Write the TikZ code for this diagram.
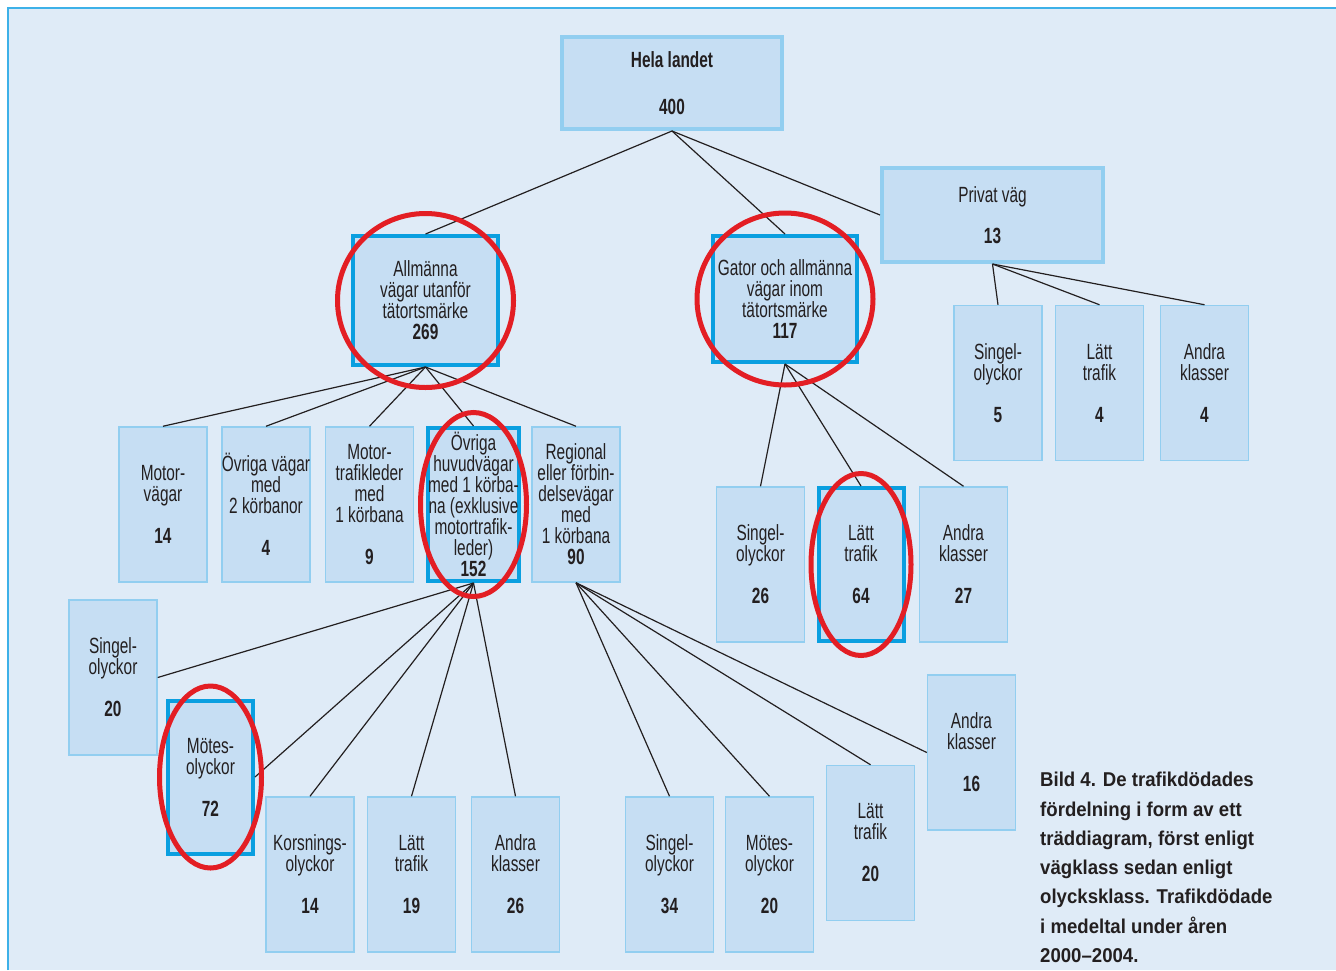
\documentclass[tikz,border=0pt]{standalone}
\usepackage{fontspec}
\setmainfont{Liberation Sans}[FakeStretch=0.7]
\newfontfamily\capfont{Liberation Sans}[FakeStretch=0.93, Ligatures=TeX]
\usepackage{xcolor}
\usepackage{tikz}
\usetikzlibrary{positioning}
\definecolor{panel}{HTML}{DFEBF7}
\definecolor{boxfill}{HTML}{C6DEF3}
\definecolor{boxline}{HTML}{92CEF0}
\definecolor{markline}{HTML}{0A9FE0}
\definecolor{frameline}{HTML}{3DB1E8}
\definecolor{ringred}{HTML}{E31E24}
\definecolor{ink}{HTML}{231F20}
\tikzset{every node/.style={font=\fontsize{22}{21}\selectfont, text=ink}}

\begin{document}
\begin{tikzpicture}[x=1pt, y=-1pt]
    % Define styles
    \tikzstyle{leaf} = [rectangle, minimum width=88pt, minimum height=155pt, inner sep=0pt, align=center, draw=boxline, fill=boxfill, line width=1.5pt]
    \tikzstyle{marked} = [leaf, minimum width=85pt, minimum height=153pt, draw=markline, line width=4pt]
    \tikzstyle{headbox} = [rectangle, minimum width=220pt, minimum height=92pt, inner sep=0pt, align=center, draw=boxline, fill=boxfill, line width=4pt]
    \tikzstyle{link} = [line width=1.2pt, draw=ink]
    \tikzstyle{ring} = [line width=5pt, draw=ringred]

    % Panel
    \useasboundingbox (0,0) rectangle (1336,970);
    \fill[white] (0,0) rectangle (1336,970);
    \fill[panel] (7,7) rectangle (1336,970);
    \draw[frameline, line width=2.5pt] (8,970) -- (8,8) -- (1336,8);

    % Whole country
    \node (root) [headbox] at (672, 83) {\textbf{Hela landet}\\[26pt]\textbf{400}};

    % Road classes
    \node (allm) [marked, minimum width=145pt, minimum height=129pt] at (425.5, 300.5) {Allmänna\\vägar utanför\\tätortsmärke\\\textbf{269}};
    \node (gator) [marked, minimum width=144pt, minimum height=126pt] at (785, 299) {Gator och allmänna\\vägar inom\\tätortsmärke\\\textbf{117}};
    \node (privat) [headbox, minimum width=221pt, minimum height=94pt] at (992.5, 215) {Privat väg\\[20pt]\textbf{13}};

    % Private road by accident class
    \node (psing) [leaf] at (998, 383) {Singel-\\olyckor\\[21pt]\textbf{5}};
    \node (platt) [leaf] at (1099.5, 383) {Lätt\\trafik\\[21pt]\textbf{4}};
    \node (pandr) [leaf] at (1204.5, 383) {Andra\\klasser\\[21pt]\textbf{4}};

    % Rural roads by road type
    \node (motorv) [leaf] at (163, 504.5) {Motor-\\vägar\\[21pt]\textbf{14}};
    \node (ovrv) [leaf] at (266, 504.5) {Övriga vägar\\med\\2 körbanor\\[21pt]\textbf{4}};
    \node (mtl) [leaf] at (369.5, 504.5) {Motor-\\trafikleder\\med\\1 körbana\\[21pt]\textbf{9}};
    \node (ovrh) [marked] at (473.5, 504.5) {Övriga\\huvudvägar\\med 1 körba-\\na (exklusive\\motortrafik-\\leder)\\\textbf{152}};
    \node (reg) [leaf] at (576, 504.5) {Regional\\eller förbin-\\delsevägar\\med\\1 körbana\\\textbf{90}};

    % Urban roads by accident class
    \node (gsing) [leaf] at (760.5, 564.5) {Singel-\\olyckor\\[21pt]\textbf{26}};
    \node (glatt) [marked] at (861, 564.5) {Lätt\\trafik\\[21pt]\textbf{64}};
    \node (gandr) [leaf] at (963.5, 564.5) {Andra\\klasser\\[21pt]\textbf{27}};

    % Main roads by accident class
    \node (hsing) [leaf] at (113, 677.5) {Singel-\\olyckor\\[21pt]\textbf{20}};
    \node (hmot) [marked] at (210.5, 777) {Mötes-\\olyckor\\[21pt]\textbf{72}};
    \node (hkors) [leaf] at (310, 874.5) {Korsnings-\\olyckor\\[21pt]\textbf{14}};
    \node (hlatt) [leaf] at (411.5, 874.5) {Lätt\\trafik\\[21pt]\textbf{19}};
    \node (handr) [leaf] at (515.5, 874.5) {Andra\\klasser\\[21pt]\textbf{26}};

    % Regional roads by accident class
    \node (rsing) [leaf] at (669.5, 874.5) {Singel-\\olyckor\\[21pt]\textbf{34}};
    \node (rmot) [leaf] at (769.5, 874.5) {Mötes-\\olyckor\\[21pt]\textbf{20}};
    \node (rlatt) [leaf] at (870.5, 843) {Lätt\\trafik\\[21pt]\textbf{20}};
    \node (randr) [leaf] at (971.5, 752.5) {Andra\\klasser\\[21pt]\textbf{16}};

    % Caption
    \node (caption) [anchor=north west, align=left, inner sep=0pt, font=\capfont\bfseries\fontsize{20}{29.3}\selectfont] at (1040, 772) {Bild 4. De trafikdödades\\fördelning i form av ett\\träddiagram, först enligt\\vägklass sedan enligt\\olycksklass. Trafikdödade\\i medeltal under åren\\2000–2004.};

    % Tree connections
    \draw [link] (root.south) -- (allm.north);
    \draw [link] (root.south) -- (gator.north);
    \draw [link] (root.south) -- (privat.west);

    \draw [link] (privat.south) -- (psing.north);
    \draw [link] (privat.south) -- (platt.north);
    \draw [link] (privat.south) -- (pandr.north);

    \draw [link] (allm.south) -- (motorv.north);
    \draw [link] (allm.south) -- (ovrv.north);
    \draw [link] (allm.south) -- (mtl.north);
    \draw [link] (allm.south) -- (ovrh.north);
    \draw [link] (allm.south) -- (reg.north);

    \draw [link] (gator.south) -- (gsing.north);
    \draw [link] (gator.south) -- (glatt.north);
    \draw [link] (gator.south) -- (gandr.north);

    \draw [link] (ovrh.south) -- (hsing.east);
    \draw [link] (ovrh.south) -- (hmot.east);
    \draw [link] (ovrh.south) -- (hkors.north);
    \draw [link] (ovrh.south) -- (hlatt.north);
    \draw [link] (ovrh.south) -- (handr.north);

    \draw [link] (reg.south) -- (rsing.north);
    \draw [link] (reg.south) -- (rmot.north);
    \draw [link] (reg.south) -- (rlatt.north);
    \draw [link] (reg.south) -- (randr.west);

    % Red rings
    \draw [ring] (allm.center) ellipse (88 and 87);
    \draw [ring] (gator.center) ellipse (88 and 86);
    \draw [ring] (ovrh.center) ellipse (53 and 92);
    \draw [ring] (glatt.center) ellipse (50 and 91);
    \draw [ring] (hmot.center) ellipse (51 and 91);
\end{tikzpicture}
\end{document}
